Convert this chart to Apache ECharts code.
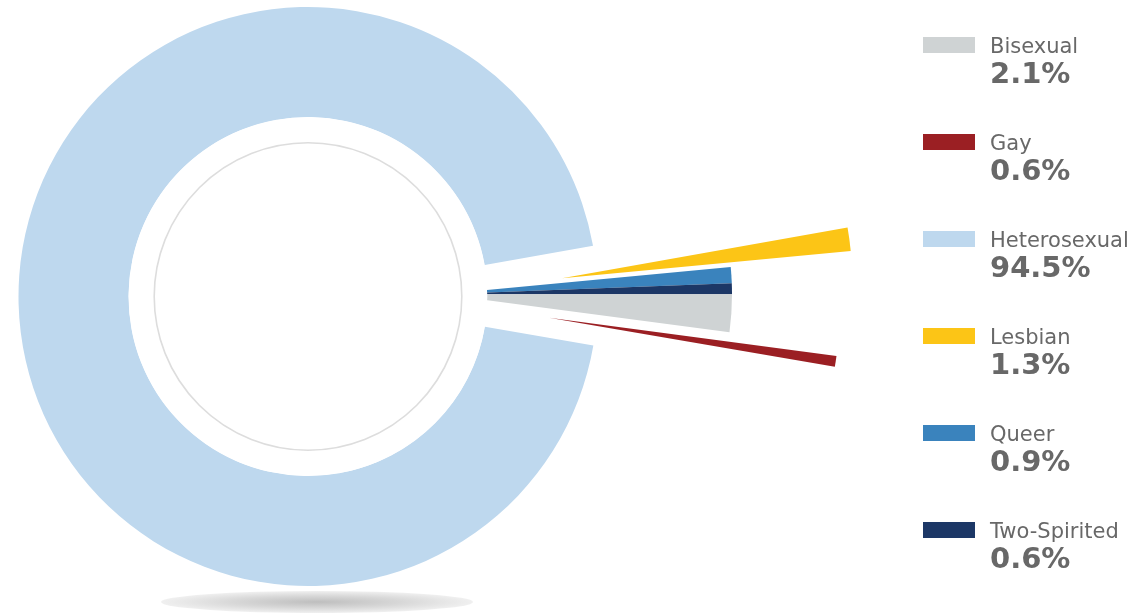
<!DOCTYPE html>
<html>
<head>
<meta charset="utf-8">
<title>Sexual orientation</title>
<script src="https://cdn.jsdelivr.net/npm/echarts@6/dist/echarts.min.js"></script>
<style>
  html, body { margin: 0; padding: 0; background: #ffffff; }
  #chart { width: 1144px; height: 616px; }
</style>
</head>
<body>
<div id="chart"></div>
<script>
// Share of respondents by sexual orientation (percent)
const categories = ['Bisexual', 'Gay', 'Heterosexual', 'Lesbian', 'Queer', 'Two-Spirited'];
const shares = [2.1, 0.6, 94.5, 1.3, 0.9, 0.6];
const colors = ['#CFD3D4', '#9B1F23', '#BED8EE', '#FCC516', '#3A83BD', '#1C3766'];

// Clockwise drawing order of the slices around the ring
const sliceOrder = ['Lesbian', 'Queer', 'Two-Spirited', 'Bisexual', 'Gay', 'Heterosexual'];

const FONT = '"DejaVu Sans", "Noto Sans", sans-serif';
const TEXT = '#686868';
const OUTER_R = 290;
const START_ANGLE = 10.08;

function valueOf(name) { return shares[categories.indexOf(name)]; }
function colorOf(name) { return colors[categories.indexOf(name)]; }

// Build a pie data list where only the named slices are painted;
// the rest keep their angular extent but stay transparent.
function sliceData(visible) {
  return sliceOrder.map(name => ({
    name: name,
    value: valueOf(name),
    itemStyle: {
      color: visible.indexOf(name) >= 0 ? colorOf(name) : 'rgba(0,0,0,0)'
    }
  }));
}

function pieSeries(center, radius, visible, z) {
  return {
    type: 'pie',
    center: center,
    radius: radius,
    startAngle: START_ANGLE,
    clockwise: true,
    silent: true,
    z: z,
    animation: false,
    label: { show: false },
    labelLine: { show: false },
    emphasis: { disabled: true },
    itemStyle: { borderWidth: 0 },
    data: sliceData(visible)
  };
}

const chart = echarts.init(document.getElementById('chart'), null, { renderer: 'canvas' });

chart.setOption({
  backgroundColor: '#ffffff',
  animation: false,
  legend: {
    orient: 'vertical',
    left: 923,
    top: 12,
    padding: 0,
    itemGap: 19,
    itemWidth: 52,
    itemHeight: 16,
    icon: 'rect',
    selectedMode: false,
    data: categories.map((name, i) => ({ name: name, itemStyle: { color: colors[i] } })),
    // a blank first line keeps the swatch level with the category name
    formatter: name => '{p| }\n{n|' + name + '}\n{v|' + valueOf(name).toFixed(1) + '%}',
    textStyle: {
      padding: [0, 0, 0, 10],
      rich: {
        p: { fontFamily: FONT, fontSize: 10, lineHeight: 39 },
        n: { fontFamily: FONT, fontSize: 21, color: TEXT, lineHeight: 22 },
        v: { fontFamily: FONT, fontSize: 29, fontWeight: 'bold', color: TEXT, lineHeight: 34 }
      }
    }
  },
  graphic: [
    {
      // white core of the ring
      type: 'circle',
      shape: { cx: 308, cy: 296.5, r: 179.3 },
      style: { fill: '#ffffff' },
      silent: true,
      z: 20
    },
    {
      type: 'circle',
      shape: { cx: 308, cy: 296.5, r: 153.8 },
      style: { fill: 'none', stroke: '#DDDDDD', lineWidth: 1.6 },
      silent: true,
      z: 21
    },
    {
      // soft floor shadow under the ring (a circle squashed vertically)
      type: 'circle',
      shape: { cx: 0, cy: 0, r: 156 },
      x: 317,
      y: 602,
      scaleY: 11 / 156,
      style: {
        fill: new echarts.graphic.RadialGradient(0.5, 0.5, 0.5, [
          { offset: 0, color: '#BEBEBE' },
          { offset: 0.55, color: '#D8D8D8' },
          { offset: 1, color: '#F0F0F0' }
        ])
      },
      silent: true,
      z: 1
    }
  ],
  series: [
    // majority ring
    pieSeries([308, 296.5], [179.5, 289.5], ['Heterosexual'], 2),
    // small wedges pulled out to the right
    pieSeries([442, 294.2], [0, OUTER_R], ['Queer', 'Two-Spirited', 'Bisexual'], 2),
    pieSeries([562, 278.2], [0, OUTER_R], ['Lesbian'], 30),
    pieSeries([549, 317.8], [0, OUTER_R], ['Gay'], 30)
  ]
});
</script>
</body>
</html>
